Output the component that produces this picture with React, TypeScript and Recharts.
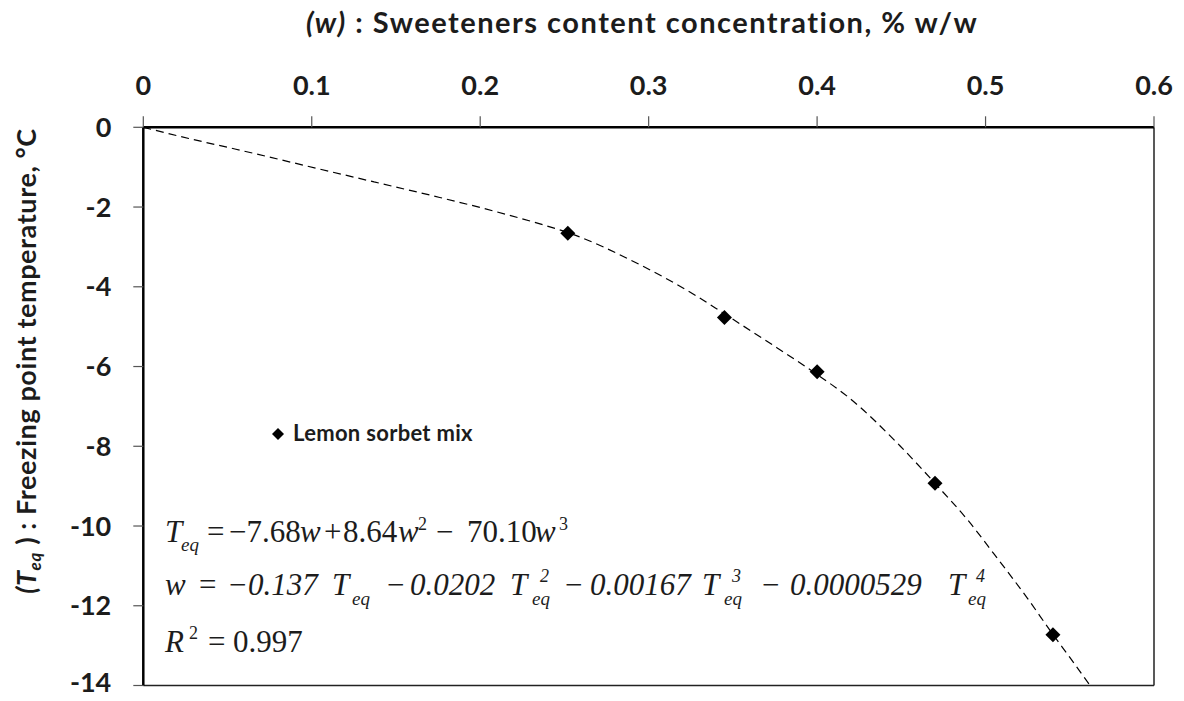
import React from 'react';
import { ComposedChart, Line, Scatter, XAxis, YAxis, Legend, ReferenceLine } from 'recharts';

// ---- data ----
const xTicks = [0, 0.1, 0.2, 0.3, 0.4, 0.5, 0.6];
const yTicks = [0, -2, -4, -6, -8, -10, -12, -14];

// measured samples (lemon sorbet mix)
const sampleW = [0.252, 0.345, 0.4, 0.47, 0.54];
const sampleT = [-2.66, -4.77, -6.13, -8.93, -12.73];

// dashed fitted curve
const fitW = [0, 0.027, 0.055, 0.105, 0.137, 0.176, 0.208, 0.236, 0.252, 0.295, 0.328, 0.345, 0.37, 0.4, 0.418, 0.449, 0.47, 0.49, 0.505, 0.525, 0.54, 0.551, 0.562];
const fitT = [0, -0.28, -0.55, -1.05, -1.37, -1.76, -2.1, -2.43, -2.64, -3.45, -4.22, -4.68, -5.36, -6.2, -6.75, -7.98, -8.93, -9.88, -10.7, -11.82, -12.72, -13.35, -14];

const seriesName = 'Lemon sorbet mix';
const xTitleItalic = '(w)';
const xTitleRest = ' : Sweeteners content concentration, % w/w';

const points = sampleW.map((w, i) => ({ w, T: sampleT[i] }));
const curve = fitW.map((w, i) => ({ w, T: fitT[i] }));

const W = 1168;
const H = 690;
const PAD = 8;
const SANS = 'Lato, "Open Sans", sans-serif';
const SERIF = '"Liberation Serif", "Times New Roman", serif';
const INK = '#1c1c1c';

const Diamond = (props: any) => {
  const { cx, cy } = props;
  if (cx == null || cy == null) return null;
  const r = 7.5;
  return <path d={`M${cx},${cy - r}L${cx + r},${cy}L${cx},${cy + r}L${cx - r},${cy}Z`} fill="#000" />;
};

const YTitle = () => {
  const cx = 28;
  const cy = 353;
  return (
    <text x={cx} y={cy} transform={`rotate(-90 ${cx} ${cy})`} textAnchor="middle" fontFamily={SANS} fontWeight={700} fontSize={27} letterSpacing={0.6} fill={INK}>
      <tspan fontStyle="italic">(T</tspan>
      <tspan fontStyle="italic" fontSize={17} dy={5}>eq</tspan>
      <tspan dy={-5}> ) : Freezing point temperature, °C</tspan>
    </text>
  );
};

const LegendContent = (props: any) => {
  const item = (props.payload || []).find((p: any) => p.value === seriesName);
  if (!item) return null;
  return (
    <svg width={240} height={28} style={{ display: 'block', overflow: 'visible' }}>
      <path d="M7,8L13,14L7,20L1,14Z" fill="#000" />
      <text x={22} y={21} letterSpacing={0.3} fontFamily={SANS} fontWeight={700} fontSize={22} fill={INK}>
        {item.value}
      </text>
    </svg>
  );
};

const Overlay = () => {
  const fs = 31;
  const sub = 19;
  const sup = 18;
  const b1 = 533.7;
  const b2 = 587;
  const b3 = 643.7;
  return (
    <svg width={W} height={H + PAD} style={{ position: 'absolute', left: 0, top: -PAD, pointerEvents: 'none' }}>
      <g transform={`translate(0, ${PAD})`}>
        <text x={298} y={25} textAnchor="start" letterSpacing={1.5} fontFamily={SANS} fontWeight={700} fontSize={29} fill={INK}>
          <tspan fontStyle="italic">{xTitleItalic}</tspan>
          <tspan>{xTitleRest}</tspan>
        </text>
        <text fontFamily={SERIF} fontSize={fs} fill={INK}>
          <tspan x={157} y={b1} fontStyle="italic">T</tspan>
          <tspan x={173} y={b1 + 9} fontStyle="italic" fontSize={sub}>eq</tspan>
          <tspan x={199} y={b1}>=</tspan>
          <tspan x={221} y={b1}>−7.68</tspan>
          <tspan x={292} y={b1} fontStyle="italic">w</tspan>
          <tspan x={316} y={b1}>+</tspan>
          <tspan x={335} y={b1}>8.64</tspan>
          <tspan x={390} y={b1} fontStyle="italic">w</tspan>
          <tspan x={410} y={b1 - 12} fontSize={sup}>2</tspan>
          <tspan x={428} y={b1}>−</tspan>
          <tspan x={459} y={b1}>70.10</tspan>
          <tspan x={527} y={b1} fontStyle="italic">w</tspan>
          <tspan x={551} y={b1 - 12} fontSize={sup}>3</tspan>
        </text>
        <text fontFamily={SERIF} fontSize={fs} fill={INK} fontStyle="italic">
          <tspan x={157} y={b2}>w</tspan>
          <tspan x={189} y={b2}>=</tspan>
          <tspan x={219} y={b2}>−0.137</tspan>
          <tspan x={324} y={b2}>T</tspan>
          <tspan x={344} y={b2 + 10} fontSize={sub}>eq</tspan>
          <tspan x={377} y={b2}>−</tspan>
          <tspan x={402} y={b2}>0.0202</tspan>
          <tspan x={502} y={b2}>T</tspan>
          <tspan x={532} y={b2 - 13} fontSize={sup}>2</tspan>
          <tspan x={524} y={b2 + 10} fontSize={sub}>eq</tspan>
          <tspan x={555} y={b2}>−</tspan>
          <tspan x={582} y={b2}>0.00167</tspan>
          <tspan x={694} y={b2}>T</tspan>
          <tspan x={724} y={b2 - 13} fontSize={sup}>3</tspan>
          <tspan x={716} y={b2 + 10} fontSize={sub}>eq</tspan>
          <tspan x={752} y={b2}>−</tspan>
          <tspan x={782} y={b2}>0.0000529</tspan>
          <tspan x={940} y={b2}>T</tspan>
          <tspan x={968} y={b2 - 13} fontSize={sup}>4</tspan>
          <tspan x={960} y={b2 + 10} fontSize={sub}>eq</tspan>
        </text>
        <text fontFamily={SERIF} fontSize={fs} fill={INK}>
          <tspan x={157} y={b3} fontStyle="italic">R</tspan>
          <tspan x={181} y={b3 - 13} fontSize={sup}>2</tspan>
          <tspan x={200} y={b3}>=</tspan>
          <tspan x={225} y={b3}>0.997</tspan>
        </text>
      </g>
    </svg>
  );
};

export default function App() {
  return (
    <div style={{ position: 'relative', width: W, height: H }}>
      <ComposedChart width={W} height={H} margin={{ top: 60, right: 22, bottom: 12.5, left: 35.3 }}>
        <XAxis
          dataKey="w"
          type="number"
          orientation="top"
          domain={[0, 0.6]}
          ticks={xTicks}
          height={59.3}
          allowDataOverflow
          axisLine={{ stroke: '#000', strokeWidth: 2.5 }}
          tickLine={{ stroke: '#555', strokeWidth: 1.2 }}
          tickSize={11}
          tickMargin={21}
          tick={{ fontFamily: SANS, fontWeight: 700, fontSize: 27, fill: INK }}
        />
        <YAxis
          dataKey="T"
          type="number"
          domain={[-14, 0]}
          ticks={yTicks}
          width={100}
          allowDataOverflow
          axisLine={{ stroke: '#000', strokeWidth: 2.5 }}
          tickLine={{ stroke: '#555', strokeWidth: 1.2 }}
          tickSize={10}
          tickMargin={22}
          tick={{ fontFamily: SANS, fontWeight: 700, fontSize: 27, fill: INK }}
          label={<YTitle />}
        />
        <ReferenceLine x={0.6} stroke="#222" strokeWidth={1.5} />
        <ReferenceLine y={-14} stroke="#222" strokeWidth={1.5} />
        <Line
          data={curve}
          dataKey="T"
          type="monotone"
          stroke="#000"
          strokeWidth={1.2}
          strokeDasharray="8 5"
          dot={false}
          activeDot={false}
          legendType="none"
          isAnimationActive={false}
        />
        <Scatter
          data={points}
          dataKey="T"
          name={seriesName}
          fill="#000"
          shape={Diamond}
          legendType="diamond"
          isAnimationActive={false}
        />
        <Legend
          layout="horizontal"
          verticalAlign="middle"
          align="center"
          content={LegendContent}
          wrapperStyle={{ left: 263, top: 412, width: 240, height: 28 }}
        />
      </ComposedChart>
      <Overlay />
    </div>
  );
}
